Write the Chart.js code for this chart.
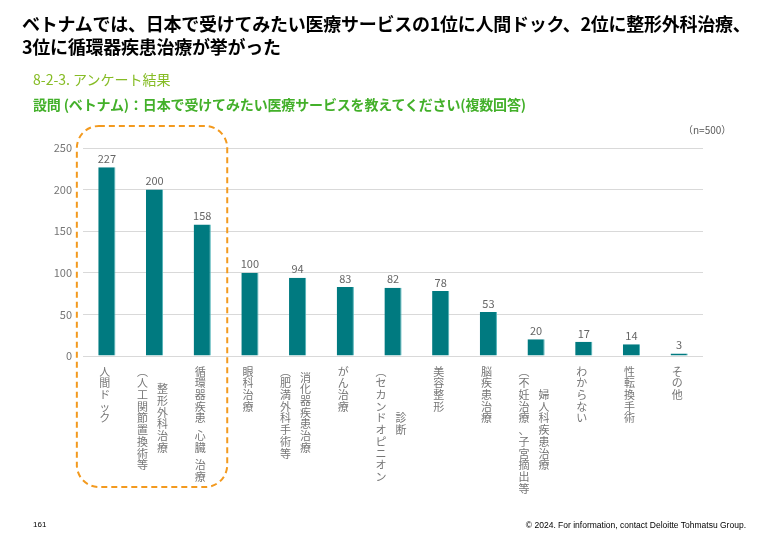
<!DOCTYPE html>
<html>
<head>
<meta charset="utf-8">
<script src="https://cdn.jsdelivr.net/npm/chart.js@4.4.1/dist/chart.umd.min.js"></script>
<style>
  html, body { margin: 0; padding: 0; background: #fff; }
  #wrap { position: relative; width: 780px; height: 540px; overflow: hidden; font-family: "Noto Sans CJK JP", "Noto Sans", sans-serif; }
  canvas { position: absolute; left: 0; top: 0; }
  .t { position: absolute; white-space: nowrap; }
  #title { left: 22px; top: 12px; font-size: 18px; font-weight: bold; color: #000; line-height: 23px; letter-spacing: -0.25px; }
  #sub1 { left: 33px; top: 69px; font-size: 14px; color: #86BC25; }
  #sub2 { left: 33px; top: 94px; font-size: 14px; font-weight: bold; color: #43B02A; letter-spacing: -0.15px; }
  #n { left: 683px; top: 122px; font-size: 10px; color: #595959; }
  #page { left: 33px; top: 520px; font-size: 8px; color: #000; font-family: "Liberation Sans", sans-serif; }
  #copy { right: 34px; top: 520px; font-size: 8.5px; color: #000; font-family: "Liberation Sans", sans-serif; }
</style>
</head>
<body>
<div id="wrap">
  <canvas id="c" width="780" height="540"></canvas>
  <div class="t" id="title">ベトナムでは、日本で受けてみたい医療サービスの1位に人間ドック、2位に整形外科治療、<br>3位に循環器疾患治療が挙がった</div>
  <div class="t" id="sub1">8-2-3. アンケート結果</div>
  <div class="t" id="sub2">設問 (ベトナム)：日本で受けてみたい医療サービスを教えてください(複数回答)</div>
  <div class="t" id="n">（n=500）</div>
  <div class="t" id="page">161</div>
  <div class="t" id="copy">© 2024. For information, contact Deloitte Tohmatsu Group.</div>
</div>
<script>
// Category labels: each entry lists its vertical text columns (right column first)
const categories = [
  ["人間ドック"],
  ["整形外科治療", "︵人工関節置換術等"],
  ["循環器疾患 心臓 治療"],
  ["眼科治療"],
  ["消化器疾患治療", "︵肥満外科手術等"],
  ["がん治療"],
  ["診断", "︵セカンドオピニオン"],
  ["美容整形"],
  ["脳疾患治療"],
  ["婦人科疾患治療", "︵不妊治療、子宮摘出等"],
  ["わからない"],
  ["性転換手術"],
  ["その他"]
];
const values = [227, 200, 158, 100, 94, 83, 82, 78, 53, 20, 17, 14, 3];
const yTicks = [0, 50, 100, 150, 200, 250];

const BAR = '#007A80';
const GRAY = '#666666';
const LABEL_GRAY = '#767676';
const FONT = '"Noto Sans CJK JP", "Noto Sans", sans-serif';

const valueLabels = {
  id: 'valueLabels',
  afterDatasetsDraw(chart) {
    const ctx = chart.ctx;
    const meta = chart.getDatasetMeta(0);
    ctx.save();
    ctx.font = '11px ' + FONT;
    ctx.fillStyle = GRAY;
    ctx.textAlign = 'center';
    ctx.textBaseline = 'bottom';
    meta.data.forEach((bar, i) => {
      ctx.fillText(String(values[i]), bar.x, bar.y - 3);
    });
    ctx.restore();
  }
};

const verticalLabels = {
  id: 'verticalLabels',
  afterDraw(chart) {
    const ctx = chart.ctx;
    const xs = chart.scales.x;
    const top = 366, pitch = 11.7, colGap = 20;
    const colLen = chars => chars.reduce((s, ch) => s + (ch === ' ' ? 0.5 : 1), 0);
    ctx.save();
    ctx.font = '11px ' + FONT;
    ctx.fillStyle = LABEL_GRAY;
    ctx.textAlign = 'center';
    ctx.textBaseline = 'top';
    categories.forEach((cols, i) => {
      const cx = xs.getPixelForValue(i) - 2;
      const n = cols.length;
      const maxLen = Math.max(...cols.map(c => colLen([...c])));
      cols.forEach((col, k) => {
        // columns run right-to-left
        const x = cx + ((n - 1) / 2 - k) * colGap;
        const chars = [...col];
        let y = top + (maxLen - colLen(chars)) * pitch / 2;
        chars.forEach(ch => {
          if (ch === ' ') { y += pitch * 0.5; return; }
          ctx.fillText(ch, x, y);
          y += pitch;
        });
      });
    });
    // dashed highlight around top 3
    const l = xs.getPixelForValue(0) - 30, r = xs.getPixelForValue(2) + 25;
    const t = 126, b = 487, rad = 22;
    ctx.strokeStyle = '#F39A1F';
    ctx.lineWidth = 2;
    ctx.setLineDash([6, 4]);
    ctx.beginPath();
    ctx.moveTo(l + rad, t);
    ctx.lineTo(r - rad, t);
    ctx.arcTo(r, t, r, t + rad, rad);
    ctx.lineTo(r, b - rad);
    ctx.arcTo(r, b, r - rad, b, rad);
    ctx.lineTo(l + rad, b);
    ctx.arcTo(l, b, l, b - rad, rad);
    ctx.lineTo(l, t + rad);
    ctx.arcTo(l, t, l + rad, t, rad);
    ctx.closePath();
    ctx.stroke();
    ctx.restore();
  }
};

new Chart(document.getElementById('c'), {
  type: 'bar',
  data: {
    labels: categories.map(c => c.join(' ')),
    datasets: [{
      data: values,
      backgroundColor: BAR,
      borderColor: '#4FB3B8',
      borderWidth: { right: 1, top: 0, left: 0, bottom: 0 },
      barPercentage: 0.36,
      categoryPercentage: 1.0
    }]
  },
  options: {
    responsive: false,
    animation: false,
    devicePixelRatio: 1,
    layout: { padding: { left: 0, right: 77, top: 148, bottom: 176 } },
    plugins: { legend: { display: false }, tooltip: { enabled: false } },
    scales: {
      x: {
        grid: { display: false },
        border: { display: false },
        ticks: { display: false }
      },
      y: {
        min: 0,
        max: 250,
        afterFit(scale) { scale.width = 83; },
        afterBuildTicks(scale) { scale.ticks = yTicks.map(v => ({ value: v })); },
        grid: { color: '#D9D9D9', lineWidth: 1, drawTicks: false },
        border: { display: false },
        ticks: { color: LABEL_GRAY, font: { size: 11, family: FONT }, padding: 11 }
      }
    }
  },
  plugins: [valueLabels, verticalLabels]
});
</script>
</body>
</html>
